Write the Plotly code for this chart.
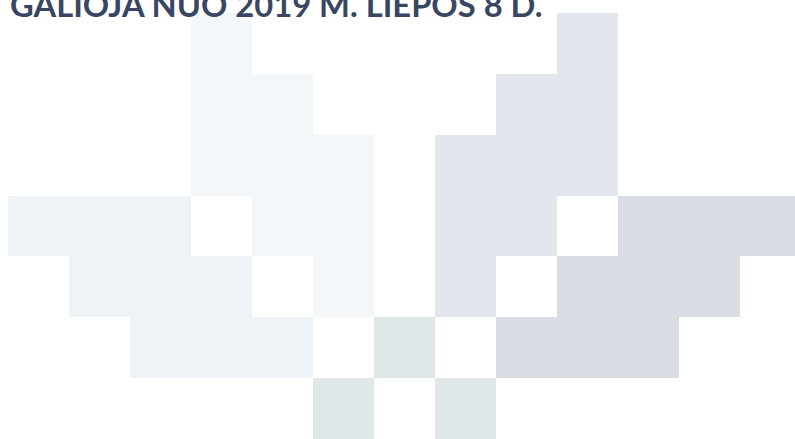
import plotly.graph_objects as go

# Grid of the block pattern: 0 = empty, 1..5 = colour groups
columns = list(range(13))
rows = list(range(7))
row0 = [0, 0, 0, 1, 0, 0, 0, 0, 0, 3, 0, 0, 0]
row1 = [0, 0, 0, 1, 1, 0, 0, 0, 3, 3, 0, 0, 0]
row2 = [0, 0, 0, 1, 1, 1, 0, 3, 3, 3, 0, 0, 0]
row3 = [2, 2, 2, 0, 1, 1, 0, 3, 3, 0, 4, 4, 4]
row4 = [0, 2, 2, 2, 0, 1, 0, 3, 0, 4, 4, 4, 0]
row5 = [0, 0, 2, 2, 2, 0, 5, 0, 4, 4, 4, 0, 0]
row6 = [0, 0, 0, 0, 0, 5, 0, 5, 0, 0, 0, 0, 0]
grid = [row0, row1, row2, row3, row4, row5, row6]

group_colors = ["#F3F7FA", "#EEF3F7", "#E2E7EE", "#D8DDE4", "#DFE7E9"]
title_text = "GALIOJA NUO 2019 M. LIEPOS 8 D."

z = [[(v if v else None) for v in r] for r in grid]

n = len(group_colors)
colorscale = []
for i, c in enumerate(group_colors):
    colorscale.append([i / n, c])
    colorscale.append([(i + 1) / n, c])

fig = go.Figure(go.Heatmap(
    x=columns, y=rows, z=z,
    zmin=0.5, zmax=n + 0.5,
    colorscale=colorscale, showscale=False,
    hoverinfo="skip",
))

W, H = 795, 439
fig.update_layout(
    width=W, height=H,
    margin=dict(l=0, r=0, t=0, b=0),
    paper_bgcolor="white", plot_bgcolor="white",
    xaxis=dict(range=[-0.636, 12.397], visible=False, fixedrange=True),
    yaxis=dict(range=[6.507, -0.714], visible=False, fixedrange=True),
    showlegend=False,
)

fig.add_annotation(
    text="<b>" + title_text + "</b>",
    xref="paper", yref="paper", x=8 / W, y=1 - 26 / H,
    xanchor="left", yanchor="bottom", showarrow=False,
    font=dict(family="Lato", size=32.7, color="#3A4661"),
)

fig.write_html("out.html", config={"displayModeBar": False},
               post_script="document.body.style.margin='0';")
